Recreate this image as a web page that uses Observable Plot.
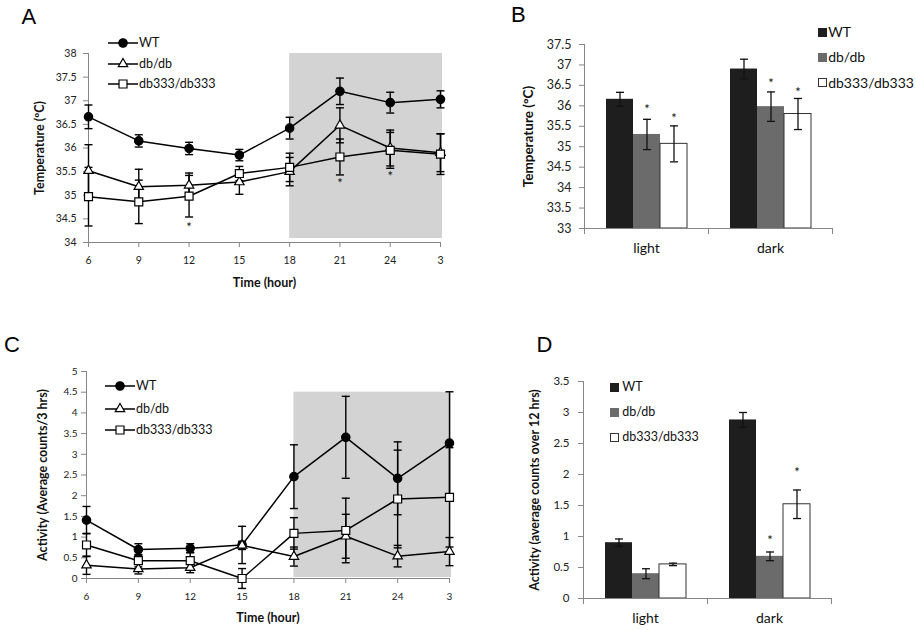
<!DOCTYPE html>
<html>
<head>
<meta charset="utf-8">
<script src="https://cdn.jsdelivr.net/npm/d3@7"></script>
<script src="https://cdn.jsdelivr.net/npm/@observablehq/plot@0.6"></script>
<style>
html,body{margin:0;padding:0;background:#fff;}
#root{position:relative;width:916px;height:630px;overflow:hidden;background:#fff;}
.panel{position:absolute;}
.letter{position:absolute;font-family:"Liberation Sans",Arial,sans-serif;font-size:22px;line-height:22px;color:#000;}
.legrow{position:absolute;display:flex;align-items:center;font-family:Lato,sans-serif;color:#111;white-space:nowrap;line-height:1;}
</style>
</head>
<body>
<div id="root"></div>
<script>
// ---------- categories ----------
const hours = ["6", "9", "12", "15", "18", "21", "24", "3"];
const genotypes = ["WT", "db/db", "db333/db333"];
const periods = ["light", "dark"];
const darkPhase = {from: "18", to: "3"};

// ---------- Panel A: temperature by time ----------
const tempTicks = [34, 34.5, 35, 35.5, 36, 36.5, 37, 37.5, 38];
const tempWT        = [36.66, 36.15, 35.99, 35.85, 36.42, 37.20, 36.96, 37.03];
const tempWTErr     = [0.25, 0.13, 0.13, 0.12, 0.23, 0.28, 0.22, 0.18];
const tempDb        = [35.52, 35.18, 35.21, 35.28, 35.50, 36.48, 36.00, 35.90];
const tempDbErr     = [0.55, 0.37, 0.26, 0.26, 0.30, 0.37, 0.38, 0.40];
const tempDb333     = [34.97, 34.86, 34.98, 35.46, 35.59, 35.81, 35.95, 35.87];
const tempDb333Err  = [0.62, 0.46, 0.44, 0.15, 0.30, 0.38, 0.38, 0.43];
const tempStarHours = ["12", "21", "24"];
const tempStarY     = [34.37, 35.30, 35.45];

// ---------- Panel B: temperature light/dark ----------
const tempBarTicks  = [33, 33.5, 34, 34.5, 35, 35.5, 36, 36.5, 37, 37.5];
const tempBarWT       = [36.16, 36.90];
const tempBarWTErr    = [0.17, 0.24];
const tempBarDb       = [35.30, 35.98];
const tempBarDbErr    = [0.37, 0.36];
const tempBarDb333    = [35.07, 35.80];
const tempBarDb333Err = [0.44, 0.38];
const tempBarStarPeriod = ["light", "light", "dark", "dark"];
const tempBarStarGeno   = ["db/db", "db333/db333", "db/db", "db333/db333"];
const tempBarStarY      = [35.97, 35.76, 36.60, 36.40];

// ---------- Panel C: activity by time ----------
const actTicks = [0, 0.5, 1, 1.5, 2, 2.5, 3, 3.5, 4, 4.5, 5];
const actWT       = [1.41, 0.70, 0.73, 0.81, 2.46, 3.41, 2.42, 3.27];
const actWTErr    = [0.33, 0.14, 0.11, 0.45, 0.77, 0.99, 0.88, 1.24];
const actDb       = [0.32, 0.23, 0.26, 0.80, 0.53, 1.02, 0.54, 0.65];
const actDbErr    = [0.22, 0.12, 0.12, 0.10, 0.23, 0.53, 0.26, 0.34];
const actDb333    = [0.81, 0.43, 0.43, 0.00, 1.09, 1.16, 1.92, 1.96];
const actDb333Err = [0.28, 0.15, 0.20, 0.24, 0.38, 0.78, 1.18, 1.20];

// ---------- Panel D: activity light/dark ----------
const actBarTicks = [0, 0.5, 1, 1.5, 2, 2.5, 3, 3.5];
const actBarWT       = [0.90, 2.88];
const actBarWTErr    = [0.06, 0.12];
const actBarDb       = [0.40, 0.68];
const actBarDbErr    = [0.08, 0.07];
const actBarDb333    = [0.55, 1.52];
const actBarDb333Err = [0.02, 0.23];
const actBarStarPeriod = ["dark", "dark"];
const actBarStarGeno   = ["db/db", "db333/db333"];
const actBarStarY      = [0.98, 2.08];

// ---------- styles ----------
const axisColor = "#868686";
const textColor = "#222";
const markerStyles = [
  {symbol: "circle", fill: "black", r: 4.2},
  {symbol: "triangle", fill: "white", r: 3.5},
  {symbol: "square", fill: "white", r: 4.5}
];
const d3Symbols = {circle: d3.symbolCircle, triangle: d3.symbolTriangle, square: d3.symbolSquare};
const barColors = ["#1e1e1e", "#6b6b6b", "#ffffff"];
const capSymbol = {draw(ctx, size) { const r = Math.sqrt(size / Math.PI); ctx.moveTo(-r, 0); ctx.lineTo(r, 0); }};
const fmt = d => String(d);

const root = document.getElementById("root");

function place(el, left, top) {
  const d = document.createElement("div");
  d.className = "panel";
  d.style.left = left + "px";
  d.style.top = top + "px";
  d.appendChild(el);
  root.appendChild(d);
}

function linePanel(o) {
  const rows = genotypes.flatMap((g, k) => hours.map((h, i) => ({g, k, i, v: o.values[k][i], e: o.errors[k][i]})));
  const caps = rows.flatMap(d => [{i: d.i, y: d.v - d.e}, {i: d.i, y: d.v + d.e}]);
  const y0 = o.yTicks[0], y1 = o.yTicks[o.yTicks.length - 1];
  const markerMarks = markerStyles.map((m, k) =>
    Plot.dot(rows.filter(d => d.k === k), {x: "i", y: "v", symbol: m.symbol, r: m.r, fill: m.fill, stroke: "black", strokeWidth: 1.2}));
  return Plot.plot({
    width: o.width, height: o.height,
    marginTop: o.margin[0], marginRight: o.margin[1], marginBottom: o.margin[2], marginLeft: o.margin[3],
    style: {fontFamily: "Lato, sans-serif", color: "#111", background: "none", overflow: "visible"},
    x: {type: "linear", domain: [0, hours.length - 1]},
    y: {type: "linear", domain: [y0, y1]},
    marks: [
      Plot.rect([o.shade], {x1: d => hours.indexOf(d.from), x2: d => hours.indexOf(d.to), y1: "low", y2: "high",
        fill: "#d3d3d3", insetRight: -2, insetBottom: o.shadeInsetBottom}),
      Plot.ruleX([0], {stroke: axisColor}),
      Plot.ruleY([y0], {stroke: axisColor}),
      Plot.axisY({ticks: o.yTicks, tickFormat: fmt, tickSize: 5, tickPadding: o.yPad, fontSize: o.tickFont, stroke: axisColor, fill: textColor, label: null}),
      Plot.axisX({ticks: d3.range(hours.length), tickFormat: i => hours[i], tickSize: 5, tickPadding: 9, fontSize: o.tickFont, stroke: axisColor, fill: textColor, label: null}),
      Plot.line(rows, {x: "i", y: "v", z: "g", stroke: "black", strokeWidth: 1.5}),
      Plot.ruleX(rows, {x: "i", y1: d => d.v - d.e, y2: d => d.v + d.e, stroke: "black", strokeWidth: 1.4}),
      Plot.dot(caps, {x: "i", y: "y", symbol: capSymbol, r: 4, fill: "none", stroke: "black", strokeWidth: 1.4}),
      ...markerMarks,
      Plot.text(o.stars, {x: d => hours.indexOf(d.hour), y: "y", text: () => "*", fontSize: 13, dy: 3, fill: "#111"}),
      Plot.text([o.yTitle], {frameAnchor: "left", textAnchor: "middle", lineAnchor: "middle", rotate: -90, dx: o.yTitleDx, text: d => d, fontSize: o.titleFont, fontWeight: "bold", fill: "#111"}),
      Plot.text([o.xTitle], {frameAnchor: "bottom", textAnchor: "middle", lineAnchor: "middle", dy: o.xTitleDy, text: d => d, fontSize: o.titleFont, fontWeight: "bold", fill: "#111"})
    ]
  });
}

function barPanel(o) {
  const rows = genotypes.flatMap((g, k) => periods.map((p, j) => ({g, p, v: o.values[k][j], e: o.errors[k][j]})));
  const caps = rows.flatMap(d => [{g: d.g, p: d.p, y: d.v - d.e}, {g: d.g, p: d.p, y: d.v + d.e}]);
  const y0 = o.yTicks[0], y1 = o.yTicks[o.yTicks.length - 1];
  const innerH = o.height - o.margin[0] - o.margin[2];
  return Plot.plot({
    width: o.width, height: o.height,
    marginTop: o.margin[0], marginRight: o.margin[1], marginBottom: o.margin[2], marginLeft: o.margin[3],
    style: {fontFamily: "Lato, sans-serif", color: "#111", background: "none", overflow: "visible"},
    fx: {domain: periods, padding: 0, label: null},
    x: {domain: genotypes, paddingInner: 0, paddingOuter: 0.76, axis: null},
    y: {type: "linear", domain: [y0, y1]},
    color: {domain: genotypes, range: barColors},
    marks: [
      Plot.barY(rows, {fx: "p", x: "g", y1: () => y0, y2: "v", fill: "g"}),
      Plot.barY(rows.filter(d => d.g === genotypes[2]), {fx: "p", x: "g", y1: () => y0, y2: "v", fill: "none", stroke: "#333", strokeWidth: 1}),
      Plot.ruleY([y0], {stroke: axisColor}),
      Plot.frame({anchor: "left", facetAnchor: "left", stroke: axisColor}),
      Plot.frame({anchor: "left", stroke: axisColor, insetTop: innerH, insetBottom: -5}),
      Plot.frame({anchor: "right", facetAnchor: "right", stroke: axisColor, insetTop: innerH, insetBottom: -5}),
      Plot.axisY({ticks: o.yTicks, tickFormat: fmt, tickSize: 5, tickPadding: o.yPad, fontSize: o.tickFont, stroke: axisColor, fill: textColor, label: null}),
      Plot.axisFx({anchor: "bottom", tickSize: 0, tickPadding: 15, fontSize: o.catFont, fill: "#111", label: null}),
      Plot.ruleX(rows, {fx: "p", x: "g", y1: d => d.v - d.e, y2: d => d.v + d.e, stroke: "#111", strokeWidth: 1.3}),
      Plot.dot(caps, {fx: "p", x: "g", y: "y", symbol: capSymbol, r: 4, fill: "none", stroke: "#111", strokeWidth: 1.3}),
      Plot.text(o.stars, {fx: "p", x: "g", y: "y", text: () => "*", fontSize: 13, dy: 3, fill: "#111"}),
      Plot.text([{p: periods[0], t: o.yTitle}], {fx: "p", frameAnchor: "left", textAnchor: "middle", lineAnchor: "middle", rotate: -90, dx: o.yTitleDx, text: "t", fontSize: o.titleFont, fontWeight: "bold", fill: "#111"})
    ]
  });
}

function lineLegend(x, ys, font) {
  genotypes.forEach((g, k) => {
    const m = markerStyles[k];
    const path = d3.symbol(d3Symbols[m.symbol], m.r * m.r * Math.PI)();
    const row = document.createElement("div");
    row.className = "legrow";
    row.style.left = x + "px";
    row.style.top = (ys[k] - 8) + "px";
    row.style.height = "16px";
    row.style.fontSize = font + "px";
    row.innerHTML = `<svg width="31" height="16" style="display:block"><line x1="0" x2="30" y1="8" y2="8" stroke="black" stroke-width="1.5"/><path d="${path}" transform="translate(15,8)" fill="${m.fill}" stroke="black" stroke-width="1.2"/></svg><span>${g}</span>`;
    root.appendChild(row);
  });
}

function barLegend(x, ys, font, gap) {
  genotypes.forEach((g, k) => {
    const row = document.createElement("div");
    row.className = "legrow";
    row.style.left = x + "px";
    row.style.top = (ys[k] - 8) + "px";
    row.style.height = "16px";
    row.style.fontSize = font + "px";
    const c = barColors[k];
    const border = k === 2 ? "#333" : c;
    row.innerHTML = `<span style="display:inline-block;width:9px;height:9px;box-sizing:border-box;background:${c};border:1px solid ${border}"></span><span style="margin-left:${gap}px">${g}</span>`;
    root.appendChild(row);
  });
}

function letter(t, left, top) {
  const d = document.createElement("div");
  d.className = "letter";
  d.style.left = left + "px";
  d.style.top = top + "px";
  d.textContent = t;
  root.appendChild(d);
}

// Panel A
place(linePanel({
  width: 460, height: 300, margin: [53, 20, 58, 88],
  yTicks: tempTicks,
  values: [tempWT, tempDb, tempDb333], errors: [tempWTErr, tempDbErr, tempDb333Err],
  shade: {from: darkPhase.from, to: darkPhase.to, low: tempTicks[0], high: tempTicks[tempTicks.length - 1]},
  shadeInsetBottom: 4,
  stars: tempStarHours.map((h, i) => ({hour: h, y: tempStarY[i]})),
  yPad: 7, tickFont: 10.5, titleFont: 12.5,
  yTitle: "Temperature (ºC)", yTitleDx: -49,
  xTitle: "Time (hour)", xTitleDy: 40
}), 0, 0);

// Panel B
place(barPanel({
  width: 476, height: 280, margin: [44, 84, 52, 144],
  yTicks: tempBarTicks,
  values: [tempBarWT, tempBarDb, tempBarDb333], errors: [tempBarWTErr, tempBarDbErr, tempBarDb333Err],
  stars: tempBarStarPeriod.map((p, i) => ({p, g: tempBarStarGeno[i], y: tempBarStarY[i]})),
  yPad: 8, tickFont: 12.5, catFont: 14, titleFont: 13.5,
  yTitle: "Temperature (°C)", yTitleDx: -56
}), 440, 0);

// Panel C
place(linePanel({
  width: 460, height: 300, margin: [41, 11, 52, 86],
  yTicks: actTicks,
  values: [actWT, actDb, actDb333], errors: [actWTErr, actDbErr, actDb333Err],
  shade: {from: darkPhase.from, to: darkPhase.to, low: actTicks[0], high: 4.5},
  shadeInsetBottom: 1,
  stars: [],
  yPad: 4, tickFont: 10, titleFont: 12.5,
  yTitle: "Activity (Average counts/3 hrs)", yTitleDx: -44,
  xTitle: "Time (hour)", xTitleDy: 39
}), 0, 330);

// Panel D
place(barPanel({
  width: 476, height: 300, margin: [51, 85, 32, 142],
  yTicks: actBarTicks,
  values: [actBarWT, actBarDb, actBarDb333], errors: [actBarWTErr, actBarDbErr, actBarDb333Err],
  stars: actBarStarPeriod.map((p, i) => ({p, g: actBarStarGeno[i], y: actBarStarY[i]})),
  yPad: 9, tickFont: 11.5, catFont: 14, titleFont: 12.5,
  yTitle: "Activity (average counts over 12 hrs)", yTitleDx: -49
}), 440, 330);

// legends
lineLegend(108, [43.3, 64, 84], 12.5);
lineLegend(105, [386, 409.3, 430], 12.5);
barLegend(817.7, [32, 57, 82.7], 14, 1.5);
barLegend(610.3, [387.7, 412, 437.3], 12.5, 3);

// panel letters
letter("A", 21.5, 5.5);
letter("B", 511, 4);
letter("C", 4, 334);
letter("D", 536.5, 334);
</script>
</body>
</html>
